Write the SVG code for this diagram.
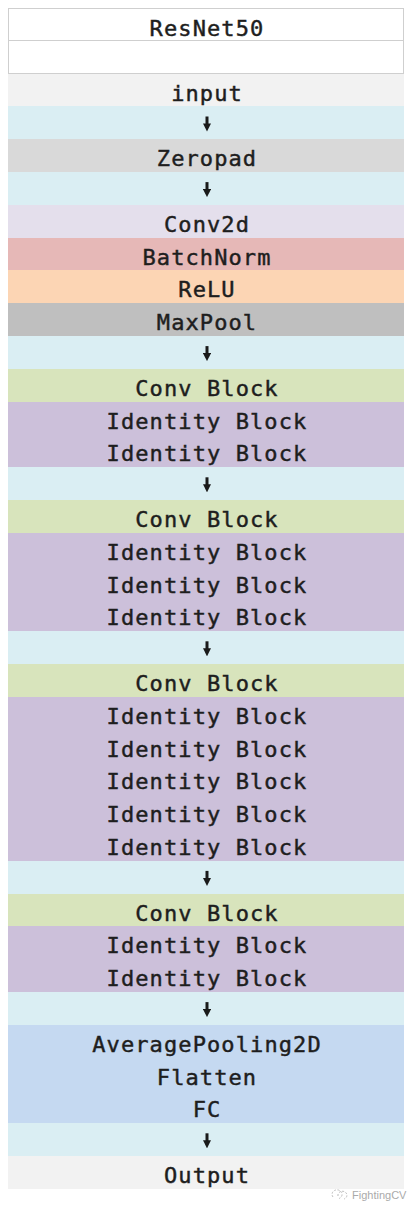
<svg xmlns="http://www.w3.org/2000/svg" width="416" height="1212" viewBox="0 0 416 1212">
<style>
.t{font-family:"DejaVu Sans Mono","Liberation Mono",monospace;font-size:22px;fill:#1e1e1e;stroke:#1e1e1e;stroke-width:0.45px;text-anchor:middle;letter-spacing:1.1px}
.hdr{fill:#ffffff;stroke:#cfcfcf;stroke-width:1}
rect{shape-rendering:crispEdges}
.arr{fill:#daeef3}
.in{fill:#f2f2f2}
.zp{fill:#d9d9d9}
.c2{fill:#e4dfec}
.bn{fill:#e6b8b7}
.re{fill:#fcd5b4}
.mp{fill:#bfbfbf}
.cb{fill:#d8e4bc}
.ib{fill:#ccc0da}
.fc{fill:#c5d9f1}
.ar{stroke:#1a1a1a;stroke-width:3;fill:none;marker-end:url(#h)}
.wm{font-family:"Liberation Sans","DejaVu Sans",sans-serif;font-size:11px;fill:#aaaaaa}
</style>
<defs>
<marker id="h" viewBox="0 0 8 8" refX="4" refY="4" markerWidth="2.7" markerHeight="2.7" orient="auto" markerUnits="strokeWidth">
<path d="M0,0 L8,4 L0,8 Z" fill="#1a1a1a"/>
</marker>
</defs>
<rect width="416" height="1212" fill="#ffffff"/>
<g id="title"><rect class="hdr" x="8.5" y="8.5" width="395" height="32.3"/><text class="t" x="207" y="36">ResNet50</text></g>
<g id="blank"><rect class="hdr" x="8.5" y="40.8" width="395" height="32.8"/></g>
<g id="input"><rect class="in" x="8" y="73.6" width="396" height="33.3"/><text class="t" x="207" y="100.6">input</text></g>
<g id="a1"><rect class="arr" x="8" y="106.4" width="396" height="33.3"/></g>
<g id="zeropad"><rect class="zp" x="8" y="139.2" width="396" height="33.3"/><text class="t" x="207" y="166.2">Zeropad</text></g>
<g id="a2"><rect class="arr" x="8" y="172" width="396" height="33.3"/></g>
<g id="conv2d"><rect class="c2" x="8" y="204.8" width="396" height="33.3"/><text class="t" x="207" y="231.8">Conv2d</text></g>
<g id="batchnorm"><rect class="bn" x="8" y="237.6" width="396" height="33.3"/><text class="t" x="207" y="264.6">BatchNorm</text></g>
<g id="relu"><rect class="re" x="8" y="270.4" width="396" height="33.3"/><text class="t" x="207" y="297.4">ReLU</text></g>
<g id="maxpool"><rect class="mp" x="8" y="303.2" width="396" height="33.3"/><text class="t" x="207" y="330.2">MaxPool</text></g>
<g id="a3"><rect class="arr" x="8" y="336" width="396" height="33.3"/></g>
<g id="conv1"><rect class="cb" x="8" y="368.8" width="396" height="33.3"/><text class="t" x="207" y="395.8">Conv Block</text></g>
<g id="id1a"><rect class="ib" x="8" y="401.6" width="396" height="33.3"/><text class="t" x="207" y="428.6">Identity Block</text></g>
<g id="id1b"><rect class="ib" x="8" y="434.4" width="396" height="33.3"/><text class="t" x="207" y="461.4">Identity Block</text></g>
<g id="a4"><rect class="arr" x="8" y="467.2" width="396" height="33.3"/></g>
<g id="conv2"><rect class="cb" x="8" y="500" width="396" height="33.3"/><text class="t" x="207" y="527">Conv Block</text></g>
<g id="id2a"><rect class="ib" x="8" y="532.8" width="396" height="33.3"/><text class="t" x="207" y="559.8">Identity Block</text></g>
<g id="id2b"><rect class="ib" x="8" y="565.6" width="396" height="33.3"/><text class="t" x="207" y="592.6">Identity Block</text></g>
<g id="id2c"><rect class="ib" x="8" y="598.4" width="396" height="33.3"/><text class="t" x="207" y="625.4">Identity Block</text></g>
<g id="a5"><rect class="arr" x="8" y="631.2" width="396" height="33.3"/></g>
<g id="conv3"><rect class="cb" x="8" y="664" width="396" height="33.3"/><text class="t" x="207" y="691">Conv Block</text></g>
<g id="id3a"><rect class="ib" x="8" y="696.8" width="396" height="33.3"/><text class="t" x="207" y="723.8">Identity Block</text></g>
<g id="id3b"><rect class="ib" x="8" y="729.6" width="396" height="33.3"/><text class="t" x="207" y="756.6">Identity Block</text></g>
<g id="id3c"><rect class="ib" x="8" y="762.4" width="396" height="33.3"/><text class="t" x="207" y="789.4">Identity Block</text></g>
<g id="id3d"><rect class="ib" x="8" y="795.2" width="396" height="33.3"/><text class="t" x="207" y="822.2">Identity Block</text></g>
<g id="id3e"><rect class="ib" x="8" y="828" width="396" height="33.3"/><text class="t" x="207" y="855">Identity Block</text></g>
<g id="a6"><rect class="arr" x="8" y="860.8" width="396" height="33.3"/></g>
<g id="conv4"><rect class="cb" x="8" y="893.6" width="396" height="33.3"/><text class="t" x="207" y="920.6">Conv Block</text></g>
<g id="id4a"><rect class="ib" x="8" y="926.4" width="396" height="33.3"/><text class="t" x="207" y="953.4">Identity Block</text></g>
<g id="id4b"><rect class="ib" x="8" y="959.2" width="396" height="33.3"/><text class="t" x="207" y="986.2">Identity Block</text></g>
<g id="a7"><rect class="arr" x="8" y="992" width="396" height="33.3"/></g>
<g id="avgpool"><rect class="fc" x="8" y="1024.8" width="396" height="33.3"/><text class="t" x="207" y="1051.8">AveragePooling2D</text></g>
<g id="flatten"><rect class="fc" x="8" y="1057.6" width="396" height="33.3"/><text class="t" x="207" y="1084.6">Flatten</text></g>
<g id="fc"><rect class="fc" x="8" y="1090.4" width="396" height="33.3"/><text class="t" x="207" y="1117.4">FC</text></g>
<g id="a8"><rect class="arr" x="8" y="1123.2" width="396" height="33.3"/></g>
<g id="output"><rect class="in" x="8" y="1156" width="396" height="32.8"/><text class="t" x="207" y="1183">Output</text></g>
<g id="connectors">
<line class="ar" x1="207" y1="116.5" x2="207" y2="127.5"/>
<line class="ar" x1="207" y1="182.1" x2="207" y2="193.1"/>
<line class="ar" x1="207" y1="346.1" x2="207" y2="357.1"/>
<line class="ar" x1="207" y1="477.3" x2="207" y2="488.3"/>
<line class="ar" x1="207" y1="641.3" x2="207" y2="652.3"/>
<line class="ar" x1="207" y1="870.9" x2="207" y2="881.9"/>
<line class="ar" x1="207" y1="1002.1" x2="207" y2="1013.1"/>
<line class="ar" x1="207" y1="1133.3" x2="207" y2="1144.3"/>
</g>
<g id="watermark">
<path d="M333,1197 a5,4.5 0 1 1 6,1.5" fill="none" stroke="#bbbbbb" stroke-width="1" stroke-dasharray="2,1.5"/>
<path d="M338,1196 a4.5,4 0 1 1 6,3" fill="none" stroke="#bbbbbb" stroke-width="1" stroke-dasharray="2,1.5"/>
<text class="wm" x="352" y="1199">FightingCV</text>
</g>
</svg>
